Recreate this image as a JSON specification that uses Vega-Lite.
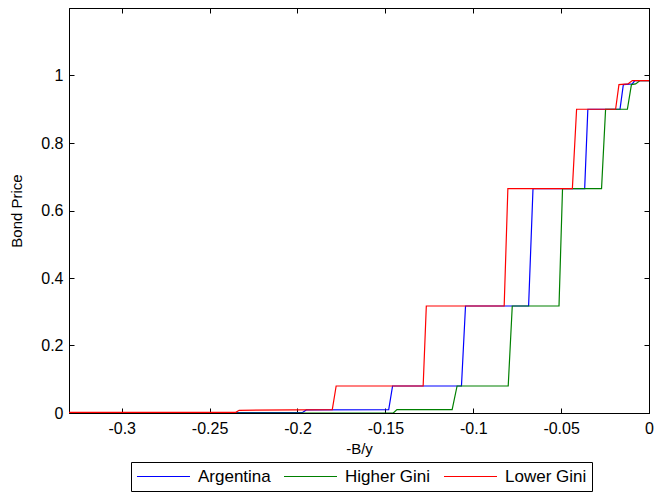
{
  "$schema": "https://vega.github.io/schema/vega-lite/v6.json",
  "width": 580,
  "height": 405,
  "autosize": {"type": "none"},
  "padding": {"left": 69, "top": 8, "right": 5, "bottom": 80},
  "background": "white",
  "config": {
    "font": "Liberation Sans",
    "view": {"stroke": "black", "strokeWidth": 1},
    "axis": {
      "domainColor": "black",
      "tickColor": "black",
      "labelColor": "black",
      "titleColor": "black",
      "labelFont": "Liberation Sans",
      "titleFont": "Liberation Sans",
      "labelFontSize": 16,
      "titleFontSize": 15,
      "titleFontWeight": "normal",
      "grid": false
    }
  },
  "data": {
    "values": [
      {"s": "Argentina", "o": 1, "x": -0.33, "y": 0.001},
      {"s": "Argentina", "o": 2, "x": -0.1973, "y": 0.001},
      {"s": "Argentina", "o": 3, "x": -0.195, "y": 0.009},
      {"s": "Argentina", "o": 4, "x": -0.1481, "y": 0.010},
      {"s": "Argentina", "o": 5, "x": -0.1459, "y": 0.080},
      {"s": "Argentina", "o": 6, "x": -0.1067, "y": 0.080},
      {"s": "Argentina", "o": 7, "x": -0.1044, "y": 0.317},
      {"s": "Argentina", "o": 8, "x": -0.0685, "y": 0.317},
      {"s": "Argentina", "o": 9, "x": -0.066, "y": 0.665},
      {"s": "Argentina", "o": 10, "x": -0.0366, "y": 0.665},
      {"s": "Argentina", "o": 11, "x": -0.0348, "y": 0.900},
      {"s": "Argentina", "o": 12, "x": -0.0165, "y": 0.900},
      {"s": "Argentina", "o": 13, "x": -0.0146, "y": 0.973},
      {"s": "Argentina", "o": 14, "x": -0.0095, "y": 0.975},
      {"s": "Argentina", "o": 15, "x": -0.0081, "y": 0.985},
      {"s": "Argentina", "o": 16, "x": 0, "y": 0.985},
      {"s": "Higher Gini", "o": 1, "x": -0.33, "y": 0.0},
      {"s": "Higher Gini", "o": 2, "x": -0.1455, "y": 0.0},
      {"s": "Higher Gini", "o": 3, "x": -0.1434, "y": 0.010},
      {"s": "Higher Gini", "o": 4, "x": -0.112, "y": 0.010},
      {"s": "Higher Gini", "o": 5, "x": -0.1092, "y": 0.080},
      {"s": "Higher Gini", "o": 6, "x": -0.0801, "y": 0.080},
      {"s": "Higher Gini", "o": 7, "x": -0.0778, "y": 0.317},
      {"s": "Higher Gini", "o": 8, "x": -0.0512, "y": 0.317},
      {"s": "Higher Gini", "o": 9, "x": -0.0492, "y": 0.665},
      {"s": "Higher Gini", "o": 10, "x": -0.027, "y": 0.665},
      {"s": "Higher Gini", "o": 11, "x": -0.0247, "y": 0.900},
      {"s": "Higher Gini", "o": 12, "x": -0.0123, "y": 0.900},
      {"s": "Higher Gini", "o": 13, "x": -0.01, "y": 0.973},
      {"s": "Higher Gini", "o": 14, "x": -0.0076, "y": 0.975},
      {"s": "Higher Gini", "o": 15, "x": -0.0051, "y": 0.985},
      {"s": "Higher Gini", "o": 16, "x": 0, "y": 0.985},
      {"s": "Lower Gini", "o": 1, "x": -0.33, "y": 0.002},
      {"s": "Lower Gini", "o": 2, "x": -0.2351, "y": 0.002},
      {"s": "Lower Gini", "o": 3, "x": -0.2332, "y": 0.008},
      {"s": "Lower Gini", "o": 4, "x": -0.1802, "y": 0.010},
      {"s": "Lower Gini", "o": 5, "x": -0.178, "y": 0.080},
      {"s": "Lower Gini", "o": 6, "x": -0.1285, "y": 0.080},
      {"s": "Lower Gini", "o": 7, "x": -0.1267, "y": 0.317},
      {"s": "Lower Gini", "o": 8, "x": -0.0824, "y": 0.317},
      {"s": "Lower Gini", "o": 9, "x": -0.0803, "y": 0.665},
      {"s": "Lower Gini", "o": 10, "x": -0.0436, "y": 0.665},
      {"s": "Lower Gini", "o": 11, "x": -0.0412, "y": 0.900},
      {"s": "Lower Gini", "o": 12, "x": -0.019, "y": 0.900},
      {"s": "Lower Gini", "o": 13, "x": -0.0171, "y": 0.973},
      {"s": "Lower Gini", "o": 14, "x": -0.012, "y": 0.975},
      {"s": "Lower Gini", "o": 15, "x": -0.0095, "y": 0.985},
      {"s": "Lower Gini", "o": 16, "x": 0, "y": 0.985}
    ]
  },
  "resolve": {"axis": {"x": "independent", "y": "independent"}},
  "layer": [
    {
      "mark": {"type": "line", "strokeWidth": 1.2, "clip": true},
      "encoding": {
        "x": {
          "field": "x", "type": "quantitative",
          "scale": {"domain": [-0.33, 0], "nice": false, "zero": false},
          "axis": {
            "title": "-B/y",
            "values": [-0.3, -0.25, -0.2, -0.15, -0.1, -0.05, 0],
            "labelExpr": "datum.value == 0 ? '0' : (datum.value < 0 ? '-' : '') + format(abs(datum.value), '~g')",
            "tickSize": -5,
            "labelPadding": 12,
            "titlePadding": 5,
            "labelFlush": false
          }
        },
        "y": {
          "field": "y", "type": "quantitative",
          "scale": {"domain": [0, 1.2], "nice": false},
          "axis": {
            "title": "Bond Price",
            "values": [0, 0.2, 0.4, 0.6, 0.8, 1],
            "format": "~g",
            "tickSize": -5,
            "labelPadding": 11,
            "titlePadding": 16,
            "labelFlush": false
          }
        },
        "color": {
          "field": "s", "type": "nominal",
          "scale": {"domain": ["Argentina", "Higher Gini", "Lower Gini"], "range": ["#0000ff", "#008000", "#ff0000"]},
          "legend": {
            "title": null,
            "orient": "none",
            "direction": "horizontal",
            "legendX": 62,
            "legendY": 454,
            "symbolType": "stroke",
            "symbolSize": 2809,
            "symbolStrokeWidth": 1.2,
            "clipHeight": 19,
            "labelFontSize": 17,
            "labelFont": "Liberation Sans",
            "labelColor": "black",
            "labelOffset": 7,
            "columnPadding": 12,
            "padding": 5,
            "strokeColor": "black",
            "fillColor": "white"
          }
        },
        "order": {"field": "o", "type": "quantitative"}
      }
    },
    {
      "mark": {"type": "point", "opacity": 0},
      "encoding": {
        "x": {
          "field": "x", "type": "quantitative",
          "scale": {"domain": [-0.33, 0], "nice": false, "zero": false},
          "axis": {"orient": "top", "title": null, "labels": false, "values": [-0.3, -0.25, -0.2, -0.15, -0.1, -0.05, 0], "tickSize": -5}
        },
        "y": {
          "field": "y", "type": "quantitative",
          "scale": {"domain": [0, 1.2], "nice": false},
          "axis": {"orient": "right", "title": null, "labels": false, "values": [0, 0.2, 0.4, 0.6, 0.8, 1], "tickSize": -5}
        }
      }
    }
  ]
}
